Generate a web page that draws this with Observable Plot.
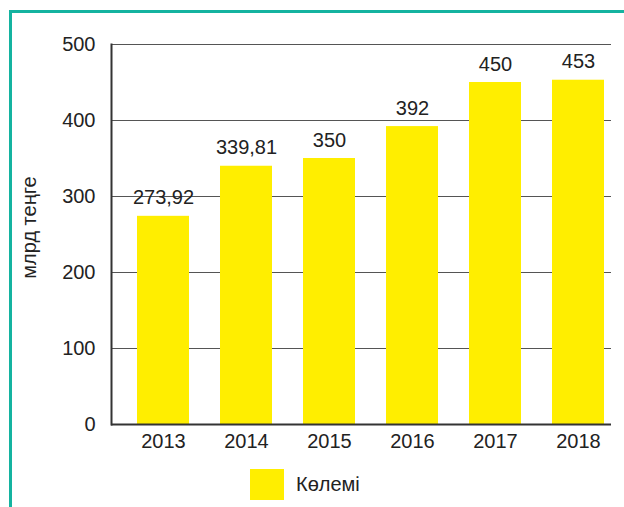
<!DOCTYPE html>
<html>
<head>
<meta charset="utf-8">
<script src="https://cdn.jsdelivr.net/npm/d3@7"></script>
<script src="https://cdn.jsdelivr.net/npm/@observablehq/plot@0.6"></script>
<style>
  html, body { margin: 0; padding: 0; background: #fff; overflow: hidden; }
  body { width: 624px; height: 507px; position: relative; font-family: "Liberation Sans", Arial, sans-serif; }
  #frame { position: absolute; left: 9px; top: 10px; width: 700px; height: 600px;
           border-left: 3px solid #14b3a0; border-top: 3px solid #14b3a0; }
  #chart { position: absolute; left: 0; top: 0; }
  #legend { position: absolute; left: 250px; top: 469px; display: flex; align-items: center; }
  #legend .sw { width: 34px; height: 31px; background: #ffee00; }
  #legend .lb { margin-left: 12px; font-size: 20px; color: #222; }
</style>
</head>
<body>
<div id="frame"></div>
<div id="chart"></div>
<div id="legend"><div class="sw"></div><div class="lb">Көлемі</div></div>
<script>
const years = ["2013", "2014", "2015", "2016", "2017", "2018"];
const values = [273.92, 339.81, 350, 392, 450, 453];
const valueLabels = ["273,92", "339,81", "350", "392", "450", "453"];
const yTicks = [0, 100, 200, 300, 400, 500];
const yTitle = "млрд теңге";
const seriesName = "Көлемі";

const data = years.map((year, i) => ({year, value: values[i], label: valueLabels[i]}));

const chart = Plot.plot({
  width: 624,
  height: 460,
  marginLeft: 111,
  marginRight: 13,
  marginTop: 44,
  marginBottom: 36,
  style: {fontFamily: "'Liberation Sans', Arial, sans-serif", fontSize: "20px", color: "#222", background: "transparent"},
  x: {domain: years, paddingInner: 0.375, paddingOuter: 0.186, align: 0.78, label: null, tickSize: 0, tickPadding: 9},
  y: {domain: [0, 500], ticks: yTicks, label: null, tickSize: 0, tickPadding: 16},
  marks: [
    Plot.gridY(yTicks, {stroke: "#555", strokeOpacity: 1, strokeWidth: 1}),
    Plot.barY(data, {x: "year", y: "value", fill: "#ffee00"}),
    Plot.ruleY([0], {stroke: "#333", strokeWidth: 2}),
    Plot.frame({anchor: "left", stroke: "#333", strokeWidth: 2}),
    Plot.text(data, {x: "year", y: "value", text: "label", lineAnchor: "bottom", dy: -12, fontSize: 20, fill: "#222"}),
    Plot.text([yTitle], {frameAnchor: "left", textAnchor: "middle", dx: -82, dy: -7, rotate: -90, fontSize: 20, fill: "#222"})
  ]
});
document.getElementById("chart").appendChild(chart);
</script>
</body>
</html>
